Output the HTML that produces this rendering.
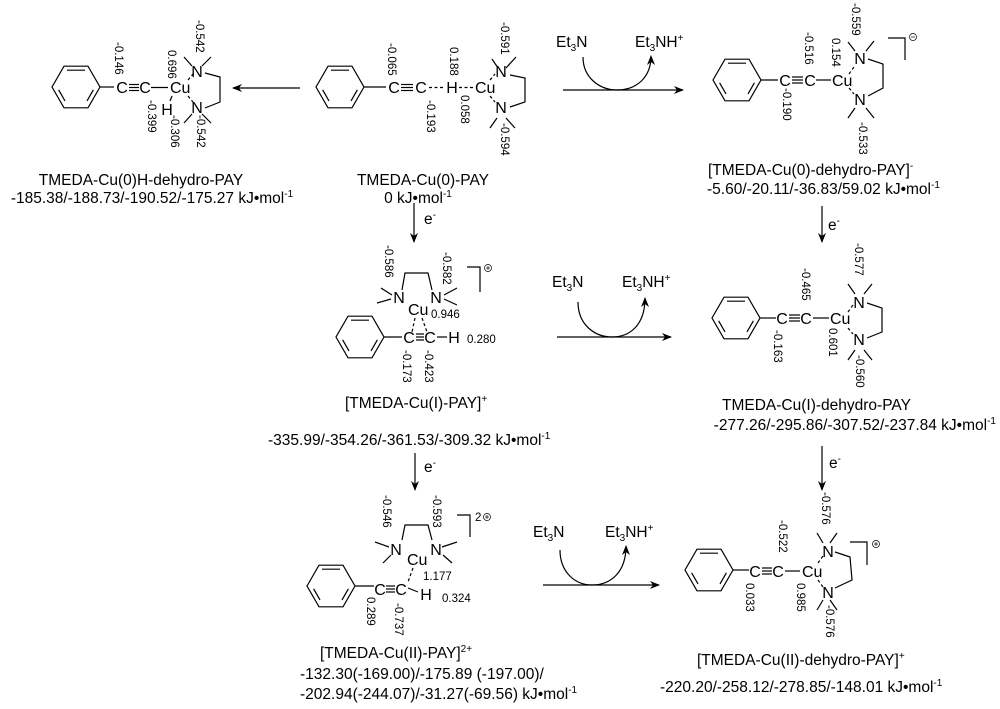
<!DOCTYPE html>
<html><head><meta charset="utf-8"><style>
html,body{margin:0;padding:0;background:#fff;}
svg{display:block;}
text{font-family:"Liberation Sans",Arial,sans-serif;fill:#000;}
.a{font-size:16px;}
.t{font-size:15.5px;}
.l{font-size:11.5px;}
.s{font-size:10px;}
line,polyline,path,polygon{stroke:#000;stroke-width:1.2;fill:none;}
.d{stroke-dasharray:3,2.5;}
</style></head><body>
<svg width="1000" height="709" viewBox="0 0 1000 709" xmlns="http://www.w3.org/2000/svg">
<defs>
<g id="bz">
<polygon points="-24,0 -12,-20.8 12,-20.8 24,0 12,20.8 -12,20.8"/>
<line x1="-9" y1="-16.8" x2="9" y2="-16.8"/>
<line x1="17.4" y1="2.8" x2="11" y2="13.9"/>
<line x1="-17.4" y1="2.8" x2="-11" y2="13.9"/>
</g>
<marker id="ah" markerWidth="10" markerHeight="8" refX="9" refY="4" orient="auto" markerUnits="userSpaceOnUse">
<path d="M0,0 L10,4 L0,8 L3,4 Z" style="fill:#000;stroke:none"/>
</marker>
</defs>

<!-- S1 -->
<use href="#bz" x="76" y="87"/>
<line x1="100" y1="87" x2="114" y2="87"/>
<text class="a" x="122" y="93" text-anchor="middle">C</text>
<line x1="129" y1="84.5" x2="139" y2="84.5"/><line x1="129" y1="87.5" x2="139" y2="87.5"/><line x1="129" y1="90.5" x2="139" y2="90.5"/>
<text class="a" x="145" y="93" text-anchor="middle">C</text>
<line x1="151" y1="87.5" x2="168" y2="87.5"/>
<text class="a" x="170" y="93">Cu</text>
<text class="a" x="197" y="77" text-anchor="middle">N</text>
<text class="a" x="197" y="113" text-anchor="middle">N</text>
<text class="a" x="167" y="115" text-anchor="middle">H</text>
<line x1="172" y1="96" x2="170" y2="101"/>
<line class="d" x1="188" y1="80" x2="193" y2="74"/>
<line class="d" x1="188" y1="96" x2="193" y2="102"/>
<polyline points="205,73 220,77 220,102 205,108"/>
<line x1="184" y1="57" x2="192" y2="66"/><line x1="202" y1="66" x2="211" y2="57"/>
<line x1="184" y1="123" x2="192" y2="114"/><line x1="202" y1="114" x2="211" y2="123"/>
<g class="l">
<text transform="translate(115,42) rotate(90)">-0.146</text>
<text transform="translate(168,50) rotate(90)">0.696</text>
<text transform="translate(196,20) rotate(90)">-0.542</text>
<text transform="translate(148,100) rotate(90)">-0.399</text>
<text transform="translate(171,115) rotate(90)">-0.306</text>
<text transform="translate(197,115) rotate(90)">-0.542</text>
</g>
<text class="t" x="141" y="185" text-anchor="middle">TMEDA-Cu(0)H-dehydro-PAY</text>
<text class="t" x="152" y="203" text-anchor="middle">-185.38/-188.73/-190.52/-175.27 kJ•mol<tspan class="s" dy="-6">-1</tspan></text>

<line x1="300" y1="88" x2="233" y2="88" marker-end="url(#ah)"/>

<!-- S2 -->
<use href="#bz" x="340" y="87"/>
<line x1="364" y1="87" x2="386" y2="87"/>
<text class="a" x="394" y="93" text-anchor="middle">C</text>
<line x1="401" y1="84.5" x2="413" y2="84.5"/><line x1="401" y1="87.5" x2="413" y2="87.5"/><line x1="401" y1="90.5" x2="413" y2="90.5"/>
<text class="a" x="421" y="93" text-anchor="middle">C</text>
<line class="d" x1="429" y1="87.5" x2="445" y2="87.5"/>
<text class="a" x="452" y="93" text-anchor="middle">H</text>
<line class="d" x1="459" y1="87.5" x2="474" y2="87.5"/>
<text class="a" x="475" y="93">Cu</text>
<text class="a" x="501" y="77" text-anchor="middle">N</text>
<text class="a" x="501" y="113" text-anchor="middle">N</text>
<line class="d" x1="490" y1="80" x2="495" y2="74"/>
<line class="d" x1="490" y1="96" x2="495" y2="102"/>
<polyline points="510,75 525,78 525,102 510,107"/>
<line x1="492" y1="59" x2="498" y2="68"/><line x1="506" y1="68" x2="516" y2="57"/>
<line x1="490" y1="128" x2="497" y2="118"/><line x1="506" y1="118" x2="515" y2="128"/>
<g class="l">
<text transform="translate(388,43) rotate(90)">-0.065</text>
<text transform="translate(450,47) rotate(90)">0.188</text>
<text transform="translate(427,100) rotate(90)">-0.193</text>
<text transform="translate(461,95) rotate(90)">0.058</text>
<text transform="translate(501,22) rotate(90)">-0.591</text>
<text transform="translate(501,123) rotate(90)">-0.594</text>
</g>
<text class="t" x="423" y="185" text-anchor="middle">TMEDA-Cu(0)-PAY</text>
<text class="t" x="418" y="203" text-anchor="middle">0 kJ•mol<tspan class="s" dy="-6">-1</tspan></text>

<!-- top reagent arrow -->
<line x1="563" y1="90" x2="683" y2="90" marker-end="url(#ah)"/>
<text class="t" x="556" y="47">Et<tspan class="s" dy="4">3</tspan><tspan dy="-4">N</tspan></text>
<text class="t" x="635" y="47">Et<tspan class="s" dy="4">3</tspan><tspan dy="-4">NH</tspan><tspan class="s" dy="-6">+</tspan></text>
<path d="M583,57 C583,78 600,90 617,90 C636,90 651,78 651,56" marker-end="url(#ah)"/>

<!-- S3 -->
<use href="#bz" x="737" y="80"/>
<line x1="761" y1="80" x2="778" y2="80"/>
<text class="a" x="785" y="86" text-anchor="middle">C</text>
<line x1="792" y1="77" x2="803" y2="77"/><line x1="792" y1="80" x2="803" y2="80"/><line x1="792" y1="83" x2="803" y2="83"/>
<text class="a" x="810" y="86" text-anchor="middle">C</text>
<line x1="816" y1="80" x2="831" y2="80"/>
<text class="a" x="832" y="86">Cu</text>
<text class="a" x="860" y="64" text-anchor="middle">N</text>
<text class="a" x="860" y="105" text-anchor="middle">N</text>
<line class="d" x1="849" y1="74" x2="854" y2="67"/>
<line class="d" x1="849" y1="88" x2="854" y2="94"/>
<polyline points="868,59 883,64 883,88 868,96"/>
<line x1="848" y1="42" x2="855" y2="51"/><line x1="866" y1="51" x2="874" y2="41"/>
<line x1="848" y1="118" x2="855" y2="108"/><line x1="866" y1="108" x2="874" y2="118"/>
<polyline points="888,38 905,38 905,60"/>
<circle cx="913" cy="37" r="3.5" style="fill:none;stroke:#000;stroke-width:0.7"/>
<line x1="911" y1="37" x2="915" y2="37" style="stroke-width:0.7"/>
<g class="l">
<text transform="translate(805,32) rotate(90)">-0.516</text>
<text transform="translate(832,38) rotate(90)">0.154</text>
<text transform="translate(852,3) rotate(90)">-0.559</text>
<text transform="translate(783,88) rotate(90)">-0.190</text>
<text transform="translate(859,122) rotate(90)">-0.533</text>
</g>
<text class="t" x="708" y="175">[TMEDA-Cu(0)-dehydro-PAY]<tspan class="s" dy="-6">-</tspan></text>
<text class="t" x="707" y="194">-5.60/-20.11/-36.83/59.02 kJ•mol<tspan class="s" dy="-6">-1</tspan></text>

<line x1="822" y1="206" x2="822" y2="242" marker-end="url(#ah)"/>
<text class="t" x="828" y="230">e<tspan class="s" dy="-6">-</tspan></text>

<!-- S2b middle -->
<line x1="414" y1="203" x2="414" y2="242" marker-end="url(#ah)"/>
<text class="t" x="424" y="224">e<tspan class="s" dy="-6">-</tspan></text>
<use href="#bz" x="360" y="337"/>
<line x1="384" y1="337" x2="402" y2="337"/>
<text class="a" x="409" y="343" text-anchor="middle">C</text>
<line x1="416" y1="334" x2="424" y2="334"/><line x1="416" y1="337" x2="424" y2="337"/><line x1="416" y1="340" x2="424" y2="340"/>
<text class="a" x="430" y="343" text-anchor="middle">C</text>
<line x1="437" y1="337" x2="447" y2="337"/>
<text class="a" x="454" y="343" text-anchor="middle">H</text>
<text class="l" x="467" y="343">0.280</text>
<text class="a" x="408" y="315">Cu</text>
<text class="a" x="399" y="303" text-anchor="middle">N</text>
<text class="a" x="436" y="303" text-anchor="middle">N</text>
<text class="l" x="431" y="318">0.946</text>
<line class="d" x1="415" y1="318" x2="412" y2="332"/>
<line class="d" x1="422" y1="318" x2="427" y2="332"/>
<polyline points="402,290 405,273 428,273 432,290"/>
<line x1="381" y1="288" x2="392" y2="295"/><line x1="377" y1="303" x2="391" y2="299"/>
<line x1="444" y1="295" x2="457" y2="288"/><line x1="444" y1="299" x2="457" y2="305"/>
<polyline points="467,267 480,267 480,292"/>
<circle cx="488" cy="268" r="3.5" style="fill:none;stroke:#000;stroke-width:0.7"/>
<line x1="486" y1="268" x2="490" y2="268" style="stroke-width:0.7"/><line x1="488" y1="266" x2="488" y2="270" style="stroke-width:0.7"/>
<g class="l">
<text transform="translate(385,245) rotate(90)">-0.586</text>
<text transform="translate(443,252) rotate(90)">-0.582</text>
<text transform="translate(403,350) rotate(90)">-0.173</text>
<text transform="translate(425,350) rotate(90)">-0.423</text>
</g>
<text class="t" x="345" y="408">[TMEDA-Cu(I)-PAY]<tspan class="s" dy="-6">+</tspan></text>
<text class="t" x="268" y="445">-335.99/-354.26/-361.53/-309.32 kJ•mol<tspan class="s" dy="-6">-1</tspan></text>

<!-- mid reagent arrow -->
<line x1="557" y1="337" x2="671" y2="337" marker-end="url(#ah)"/>
<text class="t" x="552" y="287">Et<tspan class="s" dy="4">3</tspan><tspan dy="-4">N</tspan></text>
<text class="t" x="622" y="287">Et<tspan class="s" dy="4">3</tspan><tspan dy="-4">NH</tspan><tspan class="s" dy="-6">+</tspan></text>
<path d="M578,302 C578,325 595,337 612,337 C630,337 645,325 645,298" marker-end="url(#ah)"/>

<!-- S4 -->
<use href="#bz" x="736" y="318"/>
<line x1="760" y1="318" x2="776" y2="318"/>
<text class="a" x="782" y="324" text-anchor="middle">C</text>
<line x1="789" y1="315" x2="800" y2="315"/><line x1="789" y1="318" x2="800" y2="318"/><line x1="789" y1="321" x2="800" y2="321"/>
<text class="a" x="806" y="324" text-anchor="middle">C</text>
<line x1="813" y1="318" x2="829" y2="318"/>
<text class="a" x="830" y="324">Cu</text>
<text class="a" x="859" y="308" text-anchor="middle">N</text>
<text class="a" x="859" y="345" text-anchor="middle">N</text>
<line class="d" x1="848" y1="312" x2="853" y2="305"/>
<line class="d" x1="848" y1="328" x2="853" y2="334"/>
<polyline points="867,303 882,308 882,332 867,338"/>
<line x1="848" y1="284" x2="855" y2="294"/><line x1="864" y1="294" x2="872" y2="284"/>
<line x1="848" y1="360" x2="855" y2="350"/><line x1="864" y1="350" x2="872" y2="360"/>
<g class="l">
<text transform="translate(855,243) rotate(90)">-0.577</text>
<text transform="translate(802,268) rotate(90)">-0.465</text>
<text transform="translate(774,330) rotate(90)">-0.163</text>
<text transform="translate(829,328) rotate(90)">0.601</text>
<text transform="translate(856,355) rotate(90)">-0.560</text>
</g>
<text class="t" x="722" y="410">TMEDA-Cu(I)-dehydro-PAY</text>
<text class="t" x="996" y="430" text-anchor="end">-277.26/-295.86/-307.52/-237.84 kJ•mol<tspan class="s" dy="-6">-1</tspan></text>

<line x1="822" y1="446" x2="822" y2="490" marker-end="url(#ah)"/>
<text class="t" x="829" y="468">e<tspan class="s" dy="-6">-</tspan></text>

<!-- S5 bottom-left -->
<line x1="415" y1="453" x2="415" y2="490" marker-end="url(#ah)"/>
<text class="t" x="424" y="472">e<tspan class="s" dy="-6">-</tspan></text>
<use href="#bz" x="331" y="586"/>
<line x1="355" y1="586" x2="374" y2="586"/>
<text class="a" x="380" y="595" text-anchor="middle">C</text>
<line x1="386" y1="586" x2="395" y2="586"/><line x1="386" y1="589" x2="395" y2="589"/><line x1="386" y1="592" x2="395" y2="592"/>
<text class="a" x="401" y="595" text-anchor="middle">C</text>
<line x1="408" y1="588" x2="418" y2="592"/>
<text class="a" x="426" y="600" text-anchor="middle">H</text>
<text class="a" x="407" y="565">Cu</text>
<text class="a" x="396" y="555" text-anchor="middle">N</text>
<text class="a" x="436" y="555" text-anchor="middle">N</text>
<line class="d" x1="413" y1="568" x2="408" y2="582"/>
<polyline points="402,540 405,525 428,525 432,540"/>
<line x1="375" y1="542" x2="389" y2="547"/><line x1="383" y1="563" x2="391" y2="555"/>
<line x1="442" y1="547" x2="457" y2="542"/><line x1="443" y1="555" x2="452" y2="563"/>
<text class="l" x="423" y="580">1.177</text>
<text class="l" x="442" y="602">0.324</text>
<polyline points="457,515 470,515 470,537"/>
<text class="l" x="475" y="521">2</text>
<circle cx="487" cy="517" r="3.5" style="fill:none;stroke:#000;stroke-width:0.7"/>
<line x1="485" y1="517" x2="489" y2="517" style="stroke-width:0.7"/><line x1="487" y1="515" x2="487" y2="519" style="stroke-width:0.7"/>
<g class="l">
<text transform="translate(383,495) rotate(90)">-0.546</text>
<text transform="translate(433,495) rotate(90)">-0.593</text>
<text transform="translate(367,597) rotate(90)">0.289</text>
<text transform="translate(395,603) rotate(90)">-0.737</text>
</g>
<text class="t" x="320" y="658">[TMEDA-Cu(II)-PAY]<tspan class="s" dy="-6">2+</tspan></text>
<text class="t" x="300" y="679">-132.30(-169.00)/-175.89 (-197.00)/</text>
<text class="t" x="300" y="699">-202.94(-244.07)/-31.27(-69.56) kJ•mol<tspan class="s" dy="-6">-1</tspan></text>

<!-- bottom reagent arrow -->
<line x1="543" y1="585" x2="659" y2="585" marker-end="url(#ah)"/>
<text class="t" x="533" y="537">Et<tspan class="s" dy="4">3</tspan><tspan dy="-4">N</tspan></text>
<text class="t" x="605" y="537">Et<tspan class="s" dy="4">3</tspan><tspan dy="-4">NH</tspan><tspan class="s" dy="-6">+</tspan></text>
<path d="M560,550 C560,572 575,585 592,585 C611,585 626,572 626,546" marker-end="url(#ah)"/>

<!-- S6 -->
<use href="#bz" x="709" y="570"/>
<line x1="733" y1="570" x2="749" y2="570"/>
<text class="a" x="755" y="577" text-anchor="middle">C</text>
<line x1="762" y1="568" x2="772" y2="568"/><line x1="762" y1="571" x2="772" y2="571"/><line x1="762" y1="574" x2="772" y2="574"/>
<text class="a" x="778" y="577" text-anchor="middle">C</text>
<line x1="785" y1="571" x2="800" y2="571"/>
<text class="a" x="802" y="577">Cu</text>
<text class="a" x="828" y="557" text-anchor="middle">N</text>
<text class="a" x="828" y="598" text-anchor="middle">N</text>
<line class="d" x1="818" y1="563" x2="823" y2="556"/>
<line class="d" x1="818" y1="580" x2="823" y2="587"/>
<polyline points="835,552 850,557 852,580 835,588"/>
<line x1="817" y1="533" x2="823" y2="543"/><line x1="830" y1="543" x2="837" y2="533"/>
<line x1="817" y1="610" x2="823" y2="600"/><line x1="830" y1="600" x2="837" y2="610"/>
<polyline points="850,542 867,542 867,565"/>
<circle cx="876" cy="544" r="3.5" style="fill:none;stroke:#000;stroke-width:0.7"/>
<line x1="874" y1="544" x2="878" y2="544" style="stroke-width:0.7"/><line x1="876" y1="542" x2="876" y2="546" style="stroke-width:0.7"/>
<g class="l">
<text transform="translate(822,492) rotate(90)">-0.576</text>
<text transform="translate(779,520) rotate(90)">-0.522</text>
<text transform="translate(746,583) rotate(90)">0.033</text>
<text transform="translate(797,583) rotate(90)">0.985</text>
<text transform="translate(826,605) rotate(90)">-0.576</text>
</g>
<text class="t" x="697" y="665">[TMEDA-Cu(II)-dehydro-PAY]<tspan class="s" dy="-6">+</tspan></text>
<text class="t" x="660" y="692">-220.20/-258.12/-278.85/-148.01 kJ•mol<tspan class="s" dy="-6">-1</tspan></text>
</svg>
</body></html>
